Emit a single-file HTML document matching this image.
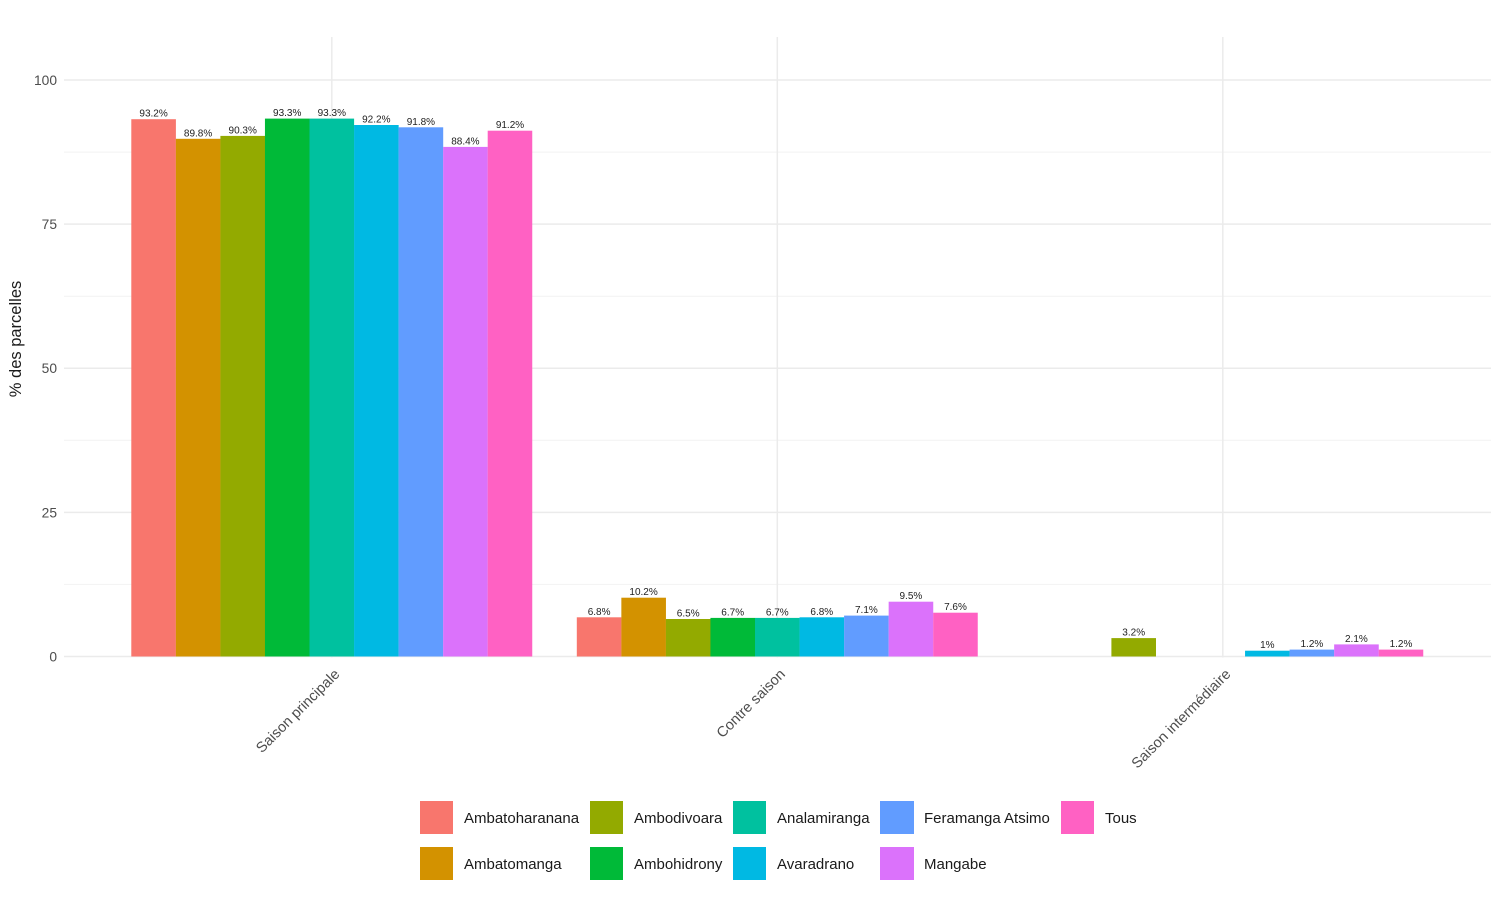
<!DOCTYPE html>
<html><head><meta charset="utf-8"><style>
html,body{margin:0;padding:0;background:#fff;}
svg{display:block;font-family:"Liberation Sans",Arial,sans-serif;}
</style></head><body>
<svg width="1500" height="900" viewBox="0 0 1500 900" xmlns="http://www.w3.org/2000/svg">
<rect width="1500" height="900" fill="#fff"/>
<!-- minor gridlines -->
<g stroke="#f2f2f2" stroke-width="1">
<line x1="64" x2="1491" y1="152.1" y2="152.1"/>
<line x1="64" x2="1491" y1="296.2" y2="296.2"/>
<line x1="64" x2="1491" y1="440.3" y2="440.3"/>
<line x1="64" x2="1491" y1="584.4" y2="584.4"/>
</g>
<!-- major gridlines -->
<g stroke="#ebebeb" stroke-width="1.5">
<line x1="64" x2="1491" y1="80" y2="80"/>
<line x1="64" x2="1491" y1="224.1" y2="224.1"/>
<line x1="64" x2="1491" y1="368.3" y2="368.3"/>
<line x1="64" x2="1491" y1="512.4" y2="512.4"/>
<line x1="64" x2="1491" y1="656.5" y2="656.5"/>
<line x1="331.8" x2="331.8" y1="37" y2="657.5"/>
<line x1="777.3" x2="777.3" y1="37" y2="657.5"/>
<line x1="1222.8" x2="1222.8" y1="37" y2="657.5"/>
</g>
<!-- bars group 1 -->
<g>
<rect x="131.3" y="119.2" width="44.6" height="537.3" fill="#F8766D"/>
<rect x="175.85" y="138.8" width="44.6" height="517.7" fill="#D39200"/>
<rect x="220.4" y="135.9" width="44.6" height="520.6" fill="#93AA00"/>
<rect x="264.95" y="118.6" width="44.6" height="537.9" fill="#00BA38"/>
<rect x="309.5" y="118.6" width="44.6" height="537.9" fill="#00C19F"/>
<rect x="354.05" y="125.0" width="44.6" height="531.5" fill="#00B9E3"/>
<rect x="398.6" y="127.3" width="44.6" height="529.2" fill="#619CFF"/>
<rect x="443.15" y="146.9" width="44.6" height="509.6" fill="#DB72FB"/>
<rect x="487.7" y="130.7" width="44.55" height="525.8" fill="#FF61C3"/>
</g>
<!-- bars group 2 -->
<g>
<rect x="576.8" y="617.3" width="44.6" height="39.2" fill="#F8766D"/>
<rect x="621.35" y="597.7" width="44.6" height="58.8" fill="#D39200"/>
<rect x="665.9" y="619.0" width="44.6" height="37.5" fill="#93AA00"/>
<rect x="710.45" y="617.9" width="44.6" height="38.6" fill="#00BA38"/>
<rect x="755.0" y="617.9" width="44.6" height="38.6" fill="#00C19F"/>
<rect x="799.55" y="617.3" width="44.6" height="39.2" fill="#00B9E3"/>
<rect x="844.1" y="615.6" width="44.6" height="40.9" fill="#619CFF"/>
<rect x="888.65" y="601.7" width="44.6" height="54.8" fill="#DB72FB"/>
<rect x="933.2" y="612.7" width="44.55" height="43.8" fill="#FF61C3"/>
</g>
<!-- bars group 3 -->
<g>
<rect x="1111.4" y="638.1" width="44.6" height="18.4" fill="#93AA00"/>
<rect x="1245.05" y="650.7" width="44.6" height="5.8" fill="#00B9E3"/>
<rect x="1289.6" y="649.6" width="44.6" height="6.9" fill="#619CFF"/>
<rect x="1334.15" y="644.4" width="44.6" height="12.1" fill="#DB72FB"/>
<rect x="1378.7" y="649.6" width="44.55" height="6.9" fill="#FF61C3"/>
</g>
<!-- value labels -->
<g font-size="10" fill="#222" text-anchor="middle">
<text x="153.6" y="116.7">93.2%</text>
<text x="198.1" y="136.3">89.8%</text>
<text x="242.7" y="133.4">90.3%</text>
<text x="287.2" y="116.1">93.3%</text>
<text x="331.8" y="116.1">93.3%</text>
<text x="376.3" y="122.5">92.2%</text>
<text x="420.9" y="124.8">91.8%</text>
<text x="465.4" y="144.4">88.4%</text>
<text x="510.0" y="128.2">91.2%</text>

<text x="599.1" y="614.8">6.8%</text>
<text x="643.6" y="595.2">10.2%</text>
<text x="688.2" y="616.5">6.5%</text>
<text x="732.7" y="615.4">6.7%</text>
<text x="777.3" y="615.4">6.7%</text>
<text x="821.8" y="614.8">6.8%</text>
<text x="866.4" y="613.1">7.1%</text>
<text x="910.9" y="599.2">9.5%</text>
<text x="955.5" y="610.2">7.6%</text>

<text x="1133.7" y="635.6">3.2%</text>
<text x="1267.3" y="648.2">1%</text>
<text x="1311.9" y="647.1">1.2%</text>
<text x="1356.4" y="641.9">2.1%</text>
<text x="1401.0" y="647.1">1.2%</text>
</g>
<!-- y axis labels -->
<g font-size="13.8" fill="#4d4d4d" text-anchor="end">
<text x="57" y="84.9">100</text>
<text x="57" y="229.0">75</text>
<text x="57" y="373.2">50</text>
<text x="57" y="517.3">25</text>
<text x="57" y="661.4">0</text>
</g>
<!-- y title -->
<text transform="translate(21,339) rotate(-90)" font-size="16.5" fill="#1a1a1a" text-anchor="middle">% des parcelles</text>
<!-- x labels -->
<g font-size="14.6" fill="#4d4d4d" text-anchor="end">
<text transform="translate(340.5,675) rotate(-45)">Saison principale</text>
<text transform="translate(786,675) rotate(-45)">Contre saison</text>
<text transform="translate(1231.5,675) rotate(-45)">Saison intermédiaire</text>
</g>
<!-- legend -->
<g>
<rect x="420" y="801" width="33" height="33" fill="#F8766D"/>
<rect x="420" y="847" width="33" height="33" fill="#D39200"/>
<rect x="590" y="801" width="33" height="33" fill="#93AA00"/>
<rect x="590" y="847" width="33" height="33" fill="#00BA38"/>
<rect x="733" y="801" width="33" height="33" fill="#00C19F"/>
<rect x="733" y="847" width="33" height="33" fill="#00B9E3"/>
<rect x="880" y="801" width="34" height="33" fill="#619CFF"/>
<rect x="880" y="847" width="34" height="33" fill="#DB72FB"/>
<rect x="1061" y="801" width="33" height="33" fill="#FF61C3"/>
</g>
<g font-size="15" fill="#1a1a1a">
<text x="464" y="823">Ambatoharanana</text>
<text x="464" y="869">Ambatomanga</text>
<text x="634" y="823">Ambodivoara</text>
<text x="634" y="869">Ambohidrony</text>
<text x="777" y="823">Analamiranga</text>
<text x="777" y="869">Avaradrano</text>
<text x="924" y="823">Feramanga Atsimo</text>
<text x="924" y="869">Mangabe</text>
<text x="1105" y="823">Tous</text>
</g>
</svg>
</body></html>
